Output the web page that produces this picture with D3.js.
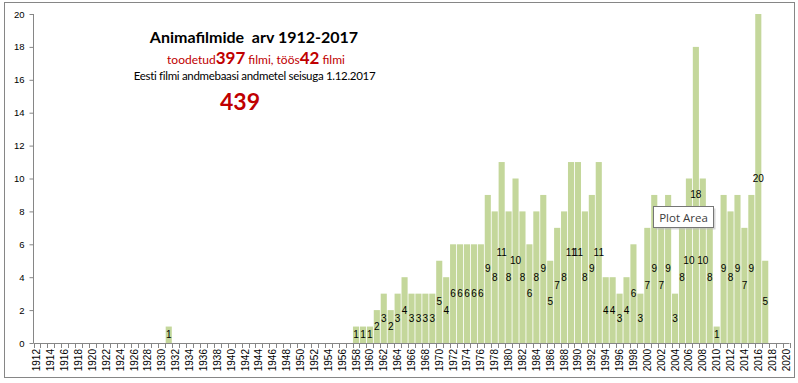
<!DOCTYPE html>
<html>
<head>
<meta charset="utf-8">
<script src="https://cdn.jsdelivr.net/npm/d3@7"></script>
<style>
  html, body { margin: 0; padding: 0; background: #fff; }
  svg { display: block; }
</style>
</head>
<body>
<svg id="chart" width="798" height="383"></svg>
<script>
// ---- Data ----
const years = d3.range(1912, 2021); // categories 1912..2020
const films = [
  // 1912-1931
  0,0,0,0,0,0,0,0,0,0, 0,0,0,0,0,0,0,0,0,1,
  // 1932-1957
  0,0,0,0,0,0,0,0,0,0, 0,0,0,0,0,0,0,0,0,0, 0,0,0,0,0,0,
  // 1958-2017
  1,1,1,2,3,2,3,4,3,3,
  3,3,5,4,6,6,6,6,6,9,
  8,11,8,10,8,6,8,9,5,7,
  8,11,11,8,9,11,4,4,3,4,
  6,3,7,9,7,9,3,8,10,18,
  10,8,1,9,8,9,7,9,20,5,
  // 2018-2020
  0,0,0
];
const yTicks = [0, 2, 4, 6, 8, 10, 12, 14, 16, 18, 20];
const xTickLabels = years.filter(y => y % 2 === 0);
const titleText = "Animafilmide  arv 1912-2017";
const producedCount = 397;
const inProgressCount = 42;
const sourceText = "Eesti filmi andmebaasi andmetel seisuga 1.12.2017";
const totalCount = 439;

// ---- Layout ----
const svg = d3.select("#chart");
const plot = { left: 33.5, right: 789.5, top: 14, bottom: 343 };
const data = years.map((y, i) => ({ year: y, value: films[i] }));

// outer border
svg.append("rect")
  .attr("x", 4.5).attr("y", 2.5).attr("width", 790).attr("height", 375)
  .attr("fill", "#fff").attr("stroke", "#868686").attr("stroke-width", 1);

const x = d3.scaleBand().domain(years).range([plot.left, plot.right]).paddingInner(0.12).paddingOuter(0.06);
const y = d3.scaleLinear().domain([0, 20]).range([plot.bottom, plot.top]);

// bars
svg.append("g").selectAll("rect")
  .data(data.filter(d => d.value > 0))
  .join("rect")
  .attr("x", d => x(d.year))
  .attr("y", d => y(d.value))
  .attr("width", x.bandwidth())
  .attr("height", d => y(0) - y(d.value))
  .attr("fill", "#C4D79B");

// y axis
const yAxis = d3.axisLeft(y).tickValues(yTicks).tickSize(4).tickPadding(5);
const gy = svg.append("g").attr("transform", `translate(${plot.left},0)`).call(yAxis);
gy.select(".domain").attr("stroke", "#868686").attr("d", `M-0.0,${plot.top}V${plot.bottom}`);
gy.selectAll(".tick line").attr("stroke", "#868686");
gy.selectAll(".tick text").attr("font-family", "Liberation Sans, Arial, sans-serif").attr("font-size", 9.5).attr("fill", "#000");

// x axis: ticks at category boundaries
const xLine = svg.append("g");
xLine.append("line")
  .attr("x1", plot.left).attr("x2", plot.right)
  .attr("y1", plot.bottom + 0.5).attr("y2", plot.bottom + 0.5)
  .attr("stroke", "#868686");
const step = x.step();
const boundaries = years.map((yr, i) => plot.left + i * ((plot.right - plot.left) / years.length)).concat([plot.right]);
xLine.selectAll("line.tk").data(boundaries).join("line")
  .attr("class", "tk")
  .attr("x1", d => Math.round(d) + 0.5).attr("x2", d => Math.round(d) + 0.5)
  .attr("y1", plot.bottom).attr("y2", plot.bottom + 5)
  .attr("stroke", "#868686");

svg.append("g").selectAll("text")
  .data(xTickLabels)
  .join("text")
  .attr("transform", d => `translate(${x(d) + x.bandwidth() / 2 + 3.5},${plot.bottom + 6}) rotate(-90)`)
  .attr("text-anchor", "end")
  .attr("font-family", "Liberation Sans, Arial, sans-serif")
  .attr("font-size", 10)
  .attr("fill", "#000")
  .text(d => d);

// data labels (centered in bars)
svg.append("g").selectAll("text")
  .data(data.filter(d => d.value > 0))
  .join("text")
  .attr("x", d => x(d.year) + x.bandwidth() / 2)
  .attr("y", d => y(d.value / 2) + 3.5)
  .attr("text-anchor", "middle")
  .attr("font-family", "Liberation Sans, Arial, sans-serif")
  .attr("font-size", 10)
  .attr("fill", "#000")
  .text(d => d.value);

// titles
const tf = "Lato, 'Open Sans', sans-serif";
svg.append("text")
  .attr("x", 254).attr("y", 43)
  .attr("text-anchor", "middle")
  .attr("font-family", tf).attr("font-weight", "bold").attr("font-size", 16)
  .attr("fill", "#000")
  .attr("xml:space", "preserve")
  .text(titleText);

const sub = svg.append("text")
  .attr("x", 256).attr("y", 64)
  .attr("text-anchor", "middle")
  .attr("font-family", tf)
  .attr("fill", "#C00000");
sub.append("tspan").attr("font-size", 12).text("toodetud");
sub.append("tspan").attr("font-size", 17).attr("font-weight", "bold").text(producedCount);
sub.append("tspan").attr("font-size", 12).text(" filmi, töös");
sub.append("tspan").attr("font-size", 17).attr("font-weight", "bold").text(inProgressCount);
sub.append("tspan").attr("font-size", 12).text(" filmi");

svg.append("text")
  .attr("x", 254.5).attr("y", 80)
  .attr("text-anchor", "middle")
  .attr("font-family", tf).attr("font-size", 11.5)
  .attr("letter-spacing", -0.3)
  .attr("fill", "#000")
  .text(sourceText);

svg.append("text")
  .attr("x", 240).attr("y", 110)
  .attr("text-anchor", "middle")
  .attr("font-family", tf).attr("font-weight", "bold").attr("font-size", 23)
  .attr("fill", "#C00000")
  .text(totalCount);

// "Plot Area" hover tooltip as seen in the reference
const tip = svg.append("g").attr("transform", "translate(653.5,206.5)");
tip.append("rect").attr("x", 2).attr("y", 2).attr("width", 60).attr("height", 21).attr("fill", "#bdbdbd").attr("opacity", 0.6);
tip.append("rect").attr("width", 60).attr("height", 21).attr("fill", "#fff").attr("stroke", "#767676");
tip.append("text").attr("x", 30).attr("y", 15).attr("text-anchor", "middle")
  .attr("font-family", "'Open Sans', 'Noto Sans', sans-serif").attr("font-size", 11.5).attr("fill", "#3c3c3c")
  .text("Plot Area");
</script>
</body>
</html>
